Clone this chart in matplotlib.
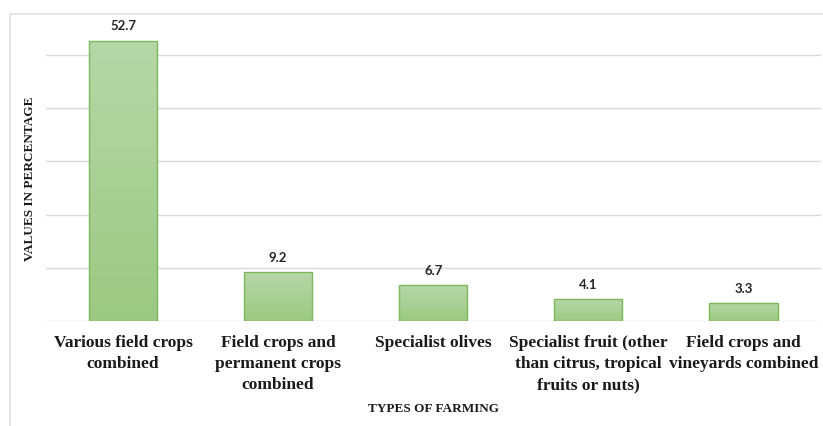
import matplotlib
matplotlib.use("Agg")
import matplotlib.pyplot as plt
from matplotlib.lines import Line2D
from matplotlib.colors import LinearSegmentedColormap
import numpy as np

categories = [
    "Various field crops\ncombined",
    "Field crops and\npermanent crops\ncombined",
    "Specialist olives",
    "Specialist fruit (other\nthan citrus, tropical\nfruits or nuts)",
    "Field crops and\nvineyards combined",
]
values = [52.7, 9.2, 6.7, 4.1, 3.3]
value_labels = ["52.7", "9.2", "6.7", "4.1", "3.3"]
grid_ticks = [0, 10, 20, 30, 40, 50]

W, H = 823, 426
fig = plt.figure(figsize=(W / 100, H / 100), dpi=100)

# axes: x from 45.5 to 821 px, y: 0 at 321 px, 50 at 55 px
left, right = 45.5, 821
y0, y50 = 321, 55
ppu = (y0 - y50) / 50.0
top_px = 14
ymax = (y0 - top_px) / ppu
ax = fig.add_axes([left / W, 1 - y0 / H, (right - left) / W, (y0 - top_px) / H])
ax.set_xlim(-0.5, len(values) - 0.5)
ax.set_ylim(0, ymax)

for t in grid_ticks:
    ax.axhline(t, color="#d9d9d9", lw=1.0, zorder=0)

x = np.arange(len(values))
bars = ax.bar(x, values, width=0.44, color="none", edgecolor="#7ab85a", linewidth=1.0, zorder=3)

grad = np.linspace(0, 1, 256).reshape(-1, 1)
cmap = LinearSegmentedColormap.from_list("g", ["#9cc982", "#b6d7a8"])
for b in bars:
    bx, by = b.get_x(), b.get_y()
    bw, bh = b.get_width(), b.get_height()
    im = ax.imshow(grad, cmap=cmap, extent=[bx, bx + bw, by, by + bh], origin="lower",
                   aspect="auto", zorder=2, interpolation="bilinear")
    im.set_clip_path(b)
ax.set_xlim(-0.5, len(values) - 0.5)
ax.set_ylim(0, ymax)

for xi, v, lab in zip(x, values, value_labels):
    ax.annotate(lab, (xi, v), xytext=(0, 6), textcoords="offset points", ha="center", va="bottom",
                fontsize=9.5, fontweight="bold", family=["Lato", "DejaVu Sans"], color="#262626")

ax.set_xticks(x)
ax.set_xticklabels(categories, fontsize=12.5, fontweight="bold", family=["Liberation Serif"],
                   color="#1a1a1a", linespacing=1.42)
ax.tick_params(axis="x", length=0, pad=10)
ax.tick_params(axis="y", left=False, labelleft=False)
for s in ax.spines.values():
    s.set_visible(False)
ax.patch.set_alpha(0)

fig.text(434 / W, 1 - 409 / H, "TYPES OF FARMING", ha="center", va="center", fontsize=9.5,
         fontweight="bold", family=["Liberation Serif"], color="#1a1a1a")
fig.text(30 / W, 1 - 179 / H, "VALUES IN PERCENTAGE", ha="center", va="center", rotation=90,
         fontsize=9.5, fontweight="bold", family=["Liberation Serif"], color="#1a1a1a")

# chart border
fig.add_artist(Line2D([10 / W, 1], [1 - 14 / H, 1 - 14 / H], transform=fig.transFigure,
                      color="#e6e6e6", lw=1.5))
fig.add_artist(Line2D([10 / W, 10 / W], [0, 1 - 14 / H], transform=fig.transFigure,
                      color="#e6e6e6", lw=1.5))

fig.savefig("out.png", dpi=100)
